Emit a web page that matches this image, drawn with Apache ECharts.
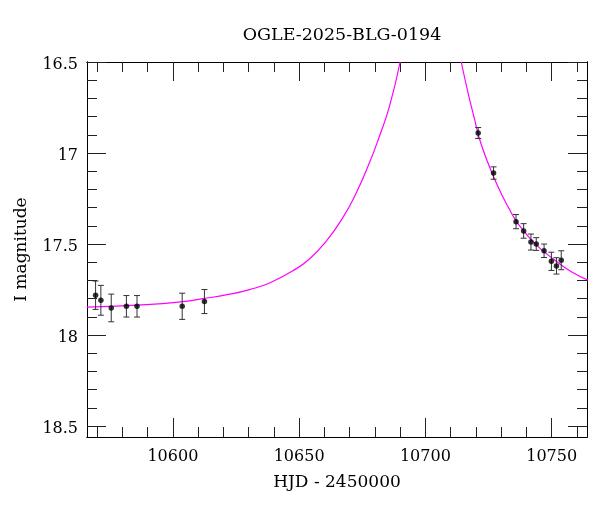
<!DOCTYPE html>
<html>
<head>
<meta charset="utf-8">
<script src="https://cdn.jsdelivr.net/npm/echarts@6/dist/echarts.min.js"></script>
<style>html,body{margin:0;padding:0;background:#fff}#c{width:600px;height:512px}</style>
</head>
<body>
<div id="c"></div>
<script>
// ---- data ----
const titleText = 'OGLE-2025-BLG-0194';
const xName = 'HJD - 2450000';
const yName = 'I magnitude';
const xMin = 10566, xMax = 10764;
const yMin = 16.5, yMax = 18.56;
const xMajorTicks = [10600, 10650, 10700, 10750];
const xMinorTicks = [10570, 10580, 10590, 10610, 10620, 10630, 10640, 10660, 10670, 10680, 10690, 10710, 10720, 10730, 10740, 10760];
const yMajorTicks = [16.5, 17, 17.5, 18, 18.5];
const yMinorTicks = [16.6, 16.7, 16.8, 16.9, 17.1, 17.2, 17.3, 17.4, 17.6, 17.7, 17.8, 17.9, 18.1, 18.2, 18.3, 18.4];

const obsDays = [10569.4, 10571.5, 10575.6, 10581.6, 10585.8, 10603.7, 10612.5, 10720.9, 10727.0, 10735.9, 10738.9, 10741.8, 10743.9, 10747.0, 10749.9, 10751.9, 10753.8];
const obsMag  = [17.781, 17.809, 17.851, 17.842, 17.842, 17.842, 17.816, 16.890, 17.110, 17.377, 17.428, 17.489, 17.500, 17.537, 17.595, 17.620, 17.589];
const obsErr  = [0.078, 0.082, 0.076, 0.059, 0.059, 0.072, 0.066, 0.030, 0.034, 0.039, 0.040, 0.044, 0.035, 0.037, 0.050, 0.045, 0.052];

const riseDays = [10566.0, 10589.5, 10602.7, 10612.0, 10622.0, 10630.4, 10638.3, 10647.5, 10654.1, 10660.7, 10667.3, 10672.6, 10677.8, 10681.8, 10685.8, 10690.0];
const riseMag  = [17.847, 17.833, 17.818, 17.800, 17.777, 17.750, 17.714, 17.647, 17.582, 17.485, 17.355, 17.220, 17.055, 16.908, 16.742, 16.500];
const fallDays = [10714.2, 10716.9, 10719.5, 10721.5, 10724.8, 10728.7, 10732.7, 10736.6, 10743.3, 10751.2, 10757.8, 10764.4];
const fallMag  = [16.500, 16.669, 16.816, 16.926, 17.055, 17.184, 17.294, 17.386, 17.496, 17.588, 17.652, 17.698];

// ---- chart ----
const FONT = 'DejaVu Serif';
const chart = echarts.init(document.getElementById('c'), null, {renderer: 'canvas'});
const gridRect = {left: 87, right: 13, top: 62, bottom: 75};

function xAxis(gridIndex, pos, ticks, len, labels, name) {
  return {
    type: 'value', gridIndex, position: pos, min: xMin, max: xMax,
    name: name || '', nameLocation: 'middle', nameGap: 37,
    nameTextStyle: {fontFamily: FONT, fontSize: 17, color: '#000'},
    axisLine: {show: true, onZero: false, lineStyle: {color: '#000', width: 1}},
    axisTick: {show: true, inside: true, length: len, customValues: ticks, lineStyle: {color: '#222', width: 1}},
    axisLabel: labels ? {show: true, customValues: ticks, margin: 12, fontFamily: FONT, fontSize: 16, color: '#000', formatter: v => String(Math.round(v))} : {show: false},
    splitLine: {show: false}, minorTick: {show: false}
  };
}
function yAxis(gridIndex, pos, ticks, len, labels, name) {
  return {
    type: 'value', gridIndex, position: pos, min: yMin, max: yMax, inverse: true,
    name: name || '', nameLocation: 'middle', nameGap: 57,
    nameTextStyle: {fontFamily: FONT, fontSize: 17, color: '#000'},
    axisLine: {show: true, onZero: false, lineStyle: {color: '#000', width: 1}},
    axisTick: {show: true, inside: true, length: len, customValues: ticks, lineStyle: {color: '#222', width: 1}},
    axisLabel: labels ? {show: true, customValues: ticks, margin: 9, verticalAlign: 'top', lineHeight: 5, fontFamily: FONT, fontSize: 16, color: '#000', formatter: v => String(v)} : {show: false},
    splitLine: {show: false}, minorTick: {show: false}
  };
}

const obsData = obsDays.map((d, i) => [d, obsMag[i], obsErr[i]]);
const riseData = riseDays.map((d, i) => [d, riseMag[i]]);
const fallData = fallDays.map((d, i) => [d, fallMag[i]]);

chart.setOption({
  animation: false,
  backgroundColor: '#fff',
  title: {
    text: titleText, left: 337, top: 21.5, textAlign: 'center',
    textStyle: {fontFamily: FONT, fontSize: 17.5, fontWeight: 'normal', color: '#000'}
  },
  grid: [Object.assign({}, gridRect), Object.assign({}, gridRect)],
  xAxis: [
    xAxis(0, 'bottom', xMajorTicks, 19, true, xName),
    xAxis(0, 'top', xMajorTicks, 19, false),
    xAxis(1, 'bottom', xMinorTicks, 10, false),
    xAxis(1, 'top', xMinorTicks, 10, false)
  ],
  yAxis: [
    yAxis(0, 'left', yMajorTicks, 19, true, yName),
    yAxis(0, 'right', yMajorTicks, 19, false),
    yAxis(1, 'left', yMinorTicks, 10, false),
    yAxis(1, 'right', yMinorTicks, 10, false)
  ],
  series: [
    {
      type: 'line', xAxisIndex: 0, yAxisIndex: 0, data: riseData, showSymbol: false,
      smooth: 0.5, clip: true,
      lineStyle: {color: '#ff00ff', width: 1.2}, z: 2
    },
    {
      type: 'line', xAxisIndex: 0, yAxisIndex: 0, data: fallData, showSymbol: false,
      smooth: 0.5, clip: true,
      lineStyle: {color: '#ff00ff', width: 1.2}, z: 2
    },
    {
      type: 'custom', xAxisIndex: 0, yAxisIndex: 0, data: obsData, clip: true, z: 3,
      encode: {x: 0, y: 1},
      renderItem: function (params, api) {
        const x = api.value(0), y = api.value(1), e = api.value(2);
        const a = api.coord([x, y - e]);
        const b = api.coord([x, y + e]);
        const w = 3;
        const st = {stroke: '#333', lineWidth: 1};
        return {
          type: 'group',
          children: [
            {type: 'line', shape: {x1: a[0], y1: a[1], x2: b[0], y2: b[1]}, style: st},
            {type: 'line', shape: {x1: a[0] - w, y1: a[1], x2: a[0] + w, y2: a[1]}, style: st},
            {type: 'line', shape: {x1: b[0] - w, y1: b[1], x2: b[0] + w, y2: b[1]}, style: st}
          ]
        };
      }
    },
    {
      type: 'scatter', xAxisIndex: 0, yAxisIndex: 0, data: obsData.map(p => [p[0], p[1]]),
      symbol: 'circle', symbolSize: 5.5, itemStyle: {color: '#000'}, z: 4
    }
  ]
});
</script>
</body>
</html>
